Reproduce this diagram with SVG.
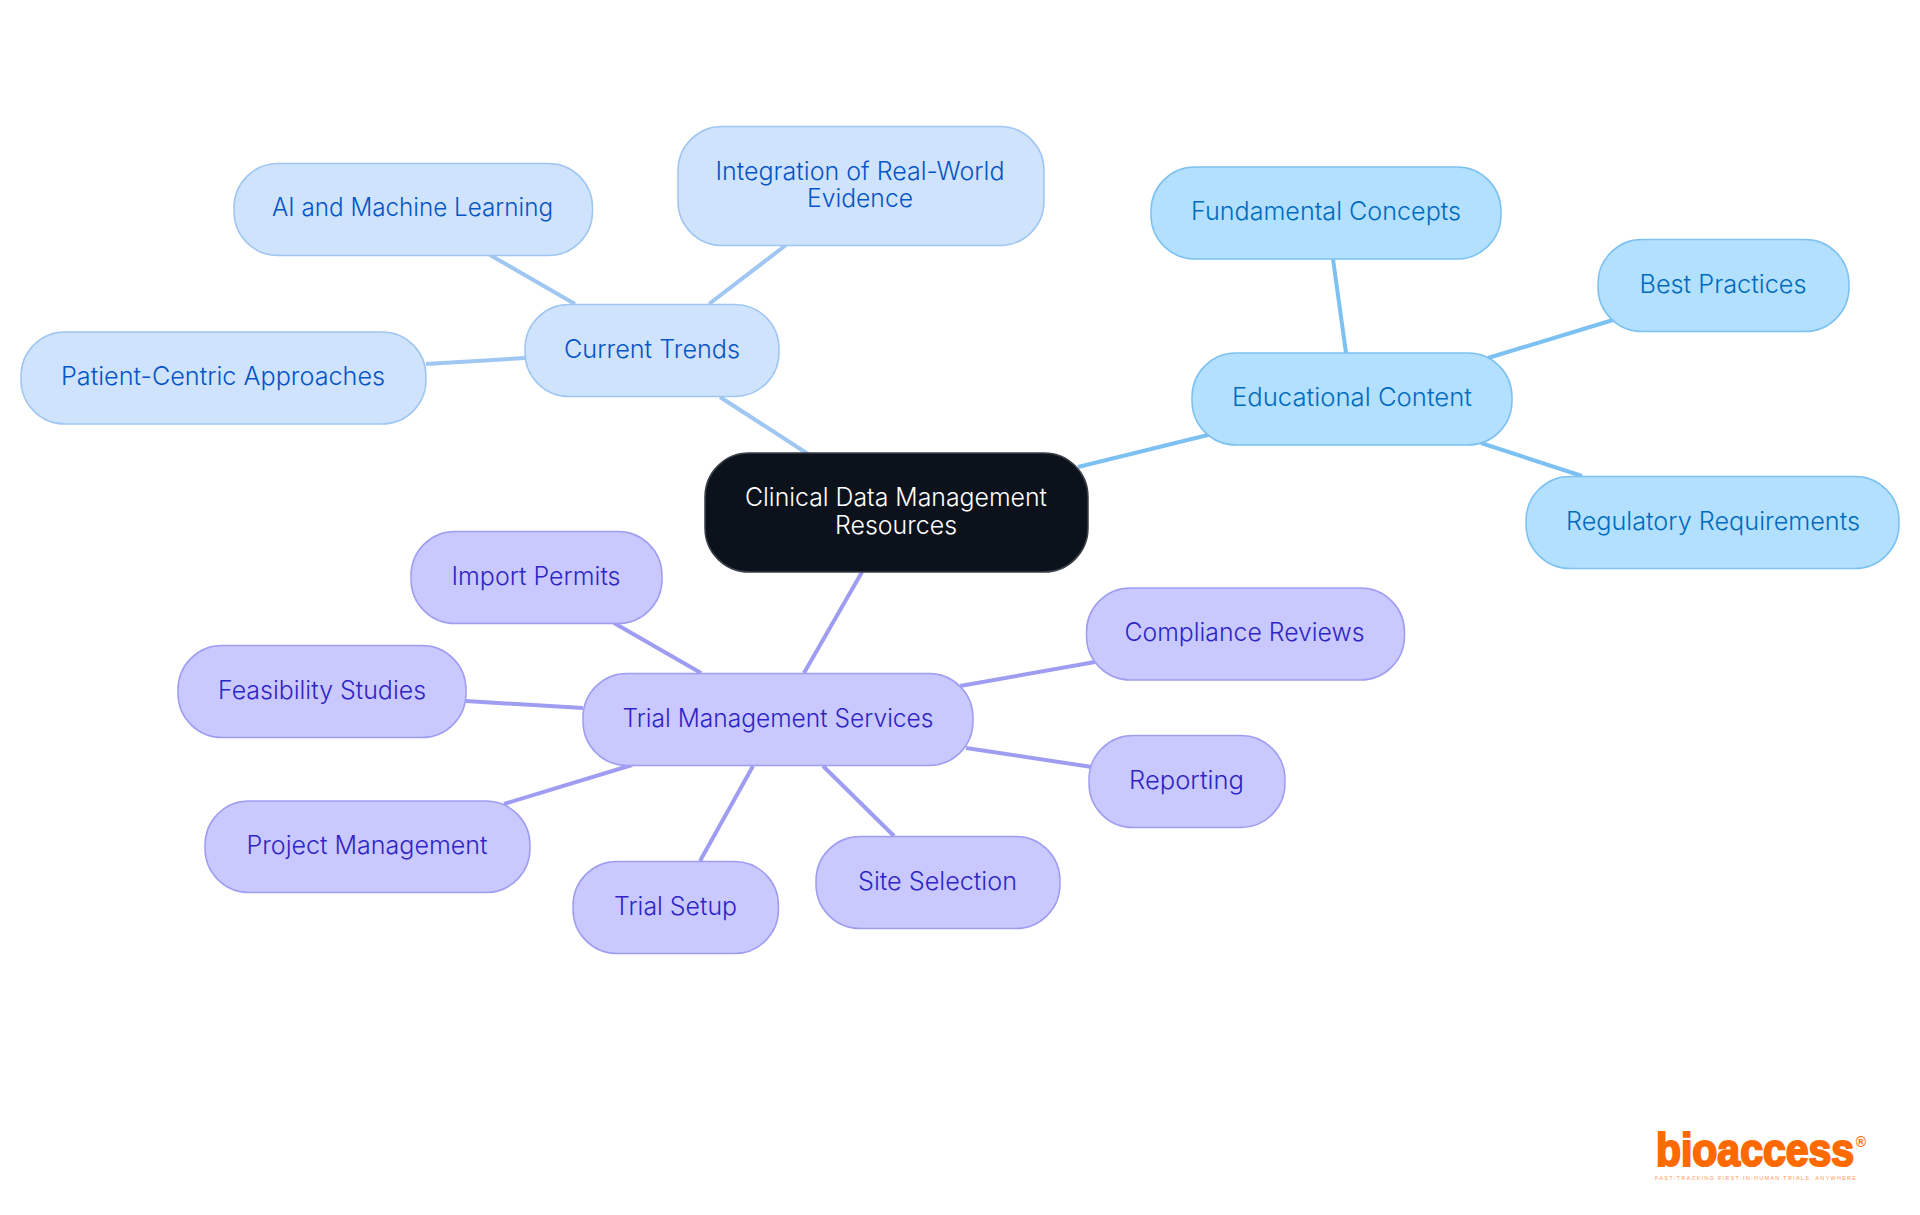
<svg xmlns="http://www.w3.org/2000/svg" width="1920" height="1215" viewBox="0 0 1920 1215">
<style>
text{font-family:"Inter","Noto Sans",sans-serif;font-size:25px;font-weight:350;text-anchor:middle}
.n{stroke-width:1.5}
.c{fill:none;stroke-width:4}
.a rect{fill:#cfe3fd;stroke:#a0c6f2}.a text{fill:#0555c6}
.b rect{fill:#b3e0ff;stroke:#7cc1f1}.b text{fill:#006bbd}
.d rect{fill:#c9c9ff;stroke:#9f9df2}.d text{fill:#2f25c4}
</style>
<rect width="1920" height="1215" fill="#fff"/>
<g id="connectors" class="c">
<g stroke="#a0c6f2"><path d="M720 397L808 454"/><path d="M575 304L490 255"/><path d="M709 304L786 245"/><path d="M525 358L426 364"/></g>
<g stroke="#7cc1f1"><path d="M1078 467L1212 434"/><path d="M1346 353L1333 259"/><path d="M1488 358L1613 320"/><path d="M1481 443L1582 476"/></g>
<g stroke="#9f9df2"><path d="M862 572L804 673"/><path d="M701 673L614 623"/><path d="M583 708L466 701"/><path d="M632 765L504 804"/><path d="M753 766L700 861"/><path d="M823 766L894 836"/><path d="M966 748L1092 767"/><path d="M960 686L1095 662"/></g>
</g>
<g id="center"><rect x="705" y="453" width="383" height="119" rx="44" fill="#0b121b" stroke="#3a3f47" stroke-width="1.5"/><text fill="#fff" x="896" y="505.500" textLength="302" lengthAdjust="spacingAndGlyphs">Clinical Data Management</text><text fill="#fff" x="896" y="533.500" textLength="122" lengthAdjust="spacingAndGlyphs">Resources</text></g>
<g id="current-trends" class="a"><rect class="n" x="525" y="304.5" width="254" height="92" rx="44"/><text x="652" y="357.500" textLength="176" lengthAdjust="spacingAndGlyphs">Current Trends</text></g>
<g id="integration" class="a"><rect class="n" x="678" y="126.5" width="366" height="119" rx="44"/><text x="860" y="179.500" textLength="289" lengthAdjust="spacingAndGlyphs">Integration of Real-World</text><text x="860" y="206.500" textLength="106" lengthAdjust="spacingAndGlyphs">Evidence</text></g>
<g id="ai-ml" class="a"><rect class="n" x="234" y="163.5" width="358.500" height="92" rx="44"/><text x="412.500" y="215.500" textLength="281" lengthAdjust="spacingAndGlyphs">AI and Machine Learning</text></g>
<g id="patient" class="a"><rect class="n" x="21" y="332" width="405" height="92" rx="44"/><text x="223" y="384.500" textLength="324" lengthAdjust="spacingAndGlyphs">Patient-Centric Approaches</text></g>
<g id="educational" class="b"><rect class="n" x="1192" y="353" width="320" height="92" rx="44"/><text x="1352" y="405.500" textLength="240" lengthAdjust="spacingAndGlyphs">Educational Content</text></g>
<g id="fundamental" class="b"><rect class="n" x="1151" y="167" width="350" height="92" rx="44"/><text x="1326" y="219.500" textLength="270" lengthAdjust="spacingAndGlyphs">Fundamental Concepts</text></g>
<g id="best" class="b"><rect class="n" x="1598" y="239.500" width="251" height="92" rx="44"/><text x="1723" y="292.500" textLength="167" lengthAdjust="spacingAndGlyphs">Best Practices</text></g>
<g id="regulatory" class="b"><rect class="n" x="1526" y="476.500" width="373" height="92" rx="44"/><text x="1713" y="529.500" textLength="294" lengthAdjust="spacingAndGlyphs">Regulatory Requirements</text></g>
<g id="trial-mgmt" class="d"><rect class="n" x="583" y="673.500" width="390" height="92" rx="44"/><text x="778" y="726.500" textLength="311" lengthAdjust="spacingAndGlyphs">Trial Management Services</text></g>
<g id="import" class="d"><rect class="n" x="411" y="531.500" width="251" height="92" rx="44"/><text x="536" y="584.500" textLength="169" lengthAdjust="spacingAndGlyphs">Import Permits</text></g>
<g id="feasibility" class="d"><rect class="n" x="178" y="645.500" width="288" height="92" rx="44"/><text x="322" y="698.500" textLength="208" lengthAdjust="spacingAndGlyphs">Feasibility Studies</text></g>
<g id="project" class="d"><rect class="n" x="205" y="801" width="325" height="91.500" rx="44"/><text x="367" y="853.500" textLength="241" lengthAdjust="spacingAndGlyphs">Project Management</text></g>
<g id="setup" class="d"><rect class="n" x="573" y="861.500" width="205.500" height="92" rx="44"/><text x="675.500" y="914.500" textLength="123" lengthAdjust="spacingAndGlyphs">Trial Setup</text></g>
<g id="site" class="d"><rect class="n" x="816" y="836.500" width="244" height="92" rx="44"/><text x="937.500" y="889.500" textLength="159" lengthAdjust="spacingAndGlyphs">Site Selection</text></g>
<g id="reporting" class="d"><rect class="n" x="1089" y="735.500" width="196" height="92" rx="44"/><text x="1186.500" y="788.500" textLength="115" lengthAdjust="spacingAndGlyphs">Reporting</text></g>
<g id="compliance" class="d"><rect class="n" x="1086.500" y="588" width="318" height="92" rx="44"/><text x="1244.500" y="640.500" textLength="240" lengthAdjust="spacingAndGlyphs">Compliance Reviews</text></g>
<g id="logo">
<text transform="translate(1656 1166) scale(.89 1)" style="font-family:'Liberation Sans',sans-serif;font-size:46px;font-weight:700;text-anchor:start" fill="#ff6a00" stroke="#ff6a00" stroke-width="2.2">bioaccess</text>
<text x="1861" y="1147" style="font-family:'Liberation Sans',sans-serif;font-size:14px;font-weight:700" fill="#ff6a00">®</text>
<text x="1655" y="1180" textLength="201" lengthAdjust="spacing" style="font-family:'Liberation Sans',sans-serif;font-size:5.5px;font-weight:400;text-anchor:start" fill="#ff9a55">FAST-TRACKING FIRST-IN-HUMAN TRIALS, ANYWHERE</text>
</g>
</svg>
